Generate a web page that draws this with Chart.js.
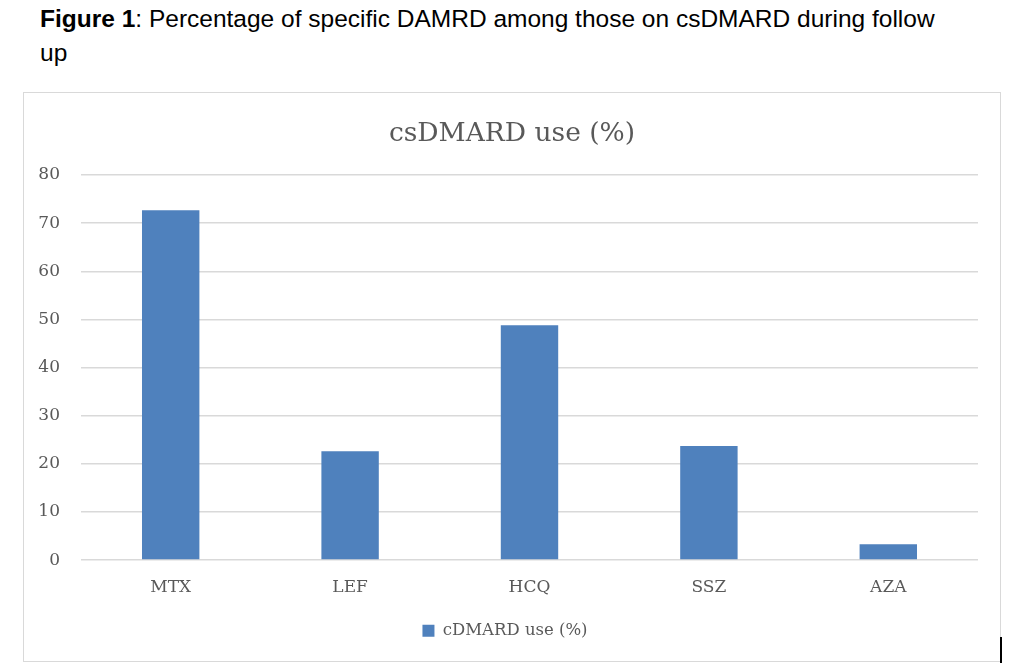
<!DOCTYPE html>
<html>
<head>
<meta charset="utf-8">
<script src="https://cdn.jsdelivr.net/npm/chart.js@4/dist/chart.umd.min.js"></script>
<style>
  body { margin: 0; background: #fff; width: 1013px; height: 670px; position: relative; overflow: hidden; }
  #caption { position: absolute; left: 40px; top: 2px; width: 912px; font-family: "Liberation Sans", Arial, sans-serif; font-size: 24.5px; line-height: 34px; color: #000; }
  #box { position: absolute; left: 23px; top: 92px; width: 976px; height: 568px; border: 1.5px solid #d9d9d9; }
  #mark { position: absolute; left: 1000px; top: 637px; width: 2px; height: 26px; background: #000; }
</style>
</head>
<body>
<div id="caption"><b>Figure 1</b>: Percentage of specific DAMRD among those on csDMARD during follow up</div>
<div id="box"><canvas id="csdmard_chart"></canvas></div>
<div id="mark"></div>
<script>
const drugs = ["MTX", "LEF", "HCQ", "SSZ", "AZA"];
const usePercent = [72.7, 22.6, 48.8, 23.7, 3.3];
const yTicks = [0, 10, 20, 30, 40, 50, 60, 70, 80];

const serif = "'DejaVu Serif', 'Liberation Serif', serif";
const grey = "#595959";

// title centred on the whole box (Chart.js centres it between the paddings)
const boxTitle = {
    id: 'boxTitle',
    afterDraw: function(chart){
        const c = chart.ctx;
        c.save();
        c.font = "26.5px " + serif;
        c.fillStyle = grey;
        c.textAlign = 'center';
        c.textBaseline = 'middle';
        c.fillText('csDMARD use (%)', chart.width / 2, 41);
        c.restore();
    }
};

function createChart(){
    var ctx = document.getElementById('csdmard_chart').getContext('2d');
    new Chart(ctx, {
        type: 'bar',
        data: {
            labels: drugs,
            datasets: [{
                label: 'cDMARD use (%)',
                backgroundColor: '#4F81BD',
                data: usePercent,
                categoryPercentage: 1,
                barPercentage: 0.32
            }]
        },
        options: {
            responsive: false,
            animation: false,
            layout: { padding: { left: 8, right: 22, top: 82, bottom: 12 } },
            plugins: {
                title: { display: false },
                legend: {
                    position: 'bottom',
                    labels: {
                        color: grey,
                        font: { family: serif, size: 16.5 },
                        boxWidth: 12,
                        boxHeight: 12,
                        padding: 16
                    }
                },
                tooltip: { enabled: false }
            },
            scales: {
                x: {
                    grid: { display: false },
                    border: { display: false },
                    ticks: { color: grey, font: { family: serif, size: 17 }, padding: 9 }
                },
                y: {
                    min: 0,
                    max: 80,
                    afterBuildTicks: function(axis){
                        axis.ticks = yTicks.map(v => ({ value: v }));
                    },
                    afterFit: function(axis){ axis.width = 49; },
                    grid: { color: '#d9d9d9', lineWidth: 1.5, drawTicks: false },
                    border: { display: false },
                    ticks: { color: grey, font: { family: serif, size: 17 }, padding: 21 }
                }
            }
        },
        plugins: [boxTitle]
    });
}

var cv = document.getElementById('csdmard_chart');
cv.width = 976;
cv.height = 568;
createChart();
</script>
</body>
</html>
